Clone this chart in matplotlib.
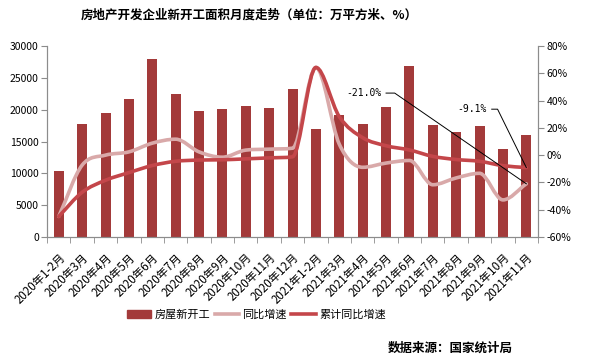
import matplotlib
matplotlib.use('Agg')
import matplotlib.pyplot as plt
from matplotlib.path import Path
from matplotlib.patches import PathPatch, Patch
from matplotlib.lines import Line2D

plt.rcParams['font.family'] = ['Noto Sans CJK SC', 'DejaVu Sans']
plt.rcParams['axes.unicode_minus'] = False

################# DATA ##################
months = ['2020年1-2月', '2020年3月', '2020年4月', '2020年5月', '2020年6月', '2020年7月',
          '2020年8月', '2020年9月', '2020年10月', '2020年11月', '2020年12月',
          '2021年1-2月', '2021年3月', '2021年4月', '2021年5月', '2021年6月', '2021年7月',
          '2021年8月', '2021年9月', '2021年10月', '2021年11月']
new_start = [10370, 17750, 19480, 21680, 27960, 22460, 19790, 20100, 20580, 20260, 23250,
             16960, 19160, 17750, 20420, 26860, 17590, 16490, 17430, 13820, 16020]
yoy = [-44.9, -7.3, 0.0, 2.4, 8.8, 11.7, 2.4, -1.5, 3.7, 4.4, 5.1,
       64.3, 8.0, -8.9, -5.8, -3.9, -21.7, -16.7, -13.3, -32.8, -21.0]
cum_yoy = [-44.9, -27.2, -18.4, -12.8, -7.6, -4.5, -3.6, -3.4, -2.7, -2.0, -1.2,
           64.3, 28.2, 12.8, 6.9, 3.8, -0.9, -3.2, -4.5, -7.7, -9.1]

bar_color = '#A33A3A'
yoy_color = '#D9A9A9'
cum_color = '#C4464A'
spine_color = '#8C8C8C'


def smooth_path(xs, ys):
    # smoothed line, bezier through the points, tangents limited so no overshoot
    n = len(xs)
    d = [ys[i + 1] - ys[i] for i in range(n - 1)]
    m = []
    for i in range(n):
        if i == 0:
            m.append(d[0])
        elif i == n - 1:
            m.append(d[-1])
        elif d[i - 1] * d[i] <= 0:
            m.append(0.0)
        else:
            t = (d[i - 1] + d[i]) / 2
            lim = 3 * min(abs(d[i - 1]), abs(d[i]))
            m.append(max(-lim, min(lim, t)))
    verts = [(xs[0], ys[0])]
    codes = [Path.MOVETO]
    for i in range(n - 1):
        h = (xs[i + 1] - xs[i]) / 3
        verts += [(xs[i] + h, ys[i] + m[i] / 3),
                  (xs[i + 1] - h, ys[i + 1] - m[i + 1] / 3),
                  (xs[i + 1], ys[i + 1])]
        codes += [Path.CURVE4] * 3
    return Path(verts, codes)


fig = plt.figure(figsize=(5.96, 3.61), dpi=100)
ax = fig.add_axes([0.079, 0.3435, 0.8237, 0.529])
ax2 = ax.twinx()

x = list(range(len(months)))
ax.bar(x, new_start, width=0.43, color=bar_color, zorder=2)

ax2.add_patch(PathPatch(smooth_path(x, yoy), fill=False, edgecolor=yoy_color, lw=2.6,
                        capstyle='round', joinstyle='round', zorder=3))
ax2.add_patch(PathPatch(smooth_path(x, cum_yoy), fill=False, edgecolor=cum_color, lw=2.6,
                        capstyle='round', joinstyle='round', zorder=4))

ax.set_xlim(-0.5, len(months) - 0.5)
ax.set_ylim(0, 30000)
ax.set_yticks(range(0, 30001, 5000))
ax2.set_ylim(-60, 80)
ax2.set_yticks(range(-60, 81, 20))
ax2.set_yticklabels([f'{v}%' for v in range(-60, 81, 20)])

ax.set_xticks(x)
ax.set_xticklabels(months, rotation=45, ha='right', rotation_mode='anchor', fontsize=8.3)
ax.set_xticks([i - 0.5 for i in range(len(months) + 1)], minor=True)
ax.tick_params(axis='x', which='major', length=0, pad=10)
ax.tick_params(axis='x', which='minor', length=4, color=spine_color)
ax.tick_params(axis='y', labelsize=7.5, length=4, color=spine_color, pad=2)
ax2.tick_params(axis='y', labelsize=7.5, length=4, color=spine_color, pad=2)

for a in (ax, ax2):
    a.spines['top'].set_visible(False)
    for s in ('left', 'right', 'bottom'):
        a.spines[s].set_color(spine_color)

# labels for last points
mono = 'DejaVu Sans Mono'
ax2.text(13.8, 45.5, '-21.0%', ha='right', va='center', fontsize=7, family=mono)
ax2.plot([14.0, 14.37, x[-1]], [45.5, 45.5, yoy[-1]], color='black', lw=0.7, zorder=5)
ax2.text(18.3, 33.7, '-9.1%', ha='right', va='center', fontsize=7, family=mono)
ax2.plot([18.52, 18.77, x[-1]], [33.7, 33.7, cum_yoy[-1]], color='black', lw=0.7, zorder=5)

fig.text(0.418, 0.958, '房地产开发企业新开工面积月度走势（单位：万平方米、%）',
         ha='center', va='center', fontsize=9, weight='bold')
fig.text(0.86, 0.036, '数据来源：国家统计局', ha='right', va='center',
         fontsize=9, weight='bold')

handles = [Patch(color=bar_color), Line2D([], [], color=yoy_color, lw=2.6),
           Line2D([], [], color=cum_color, lw=2.6)]
fig.legend(handles, ['房屋新开工', '同比增速', '累计同比增速'], loc='center',
           bbox_to_anchor=(0.43, 0.128), ncol=3, frameon=False, fontsize=8,
           handlelength=2.2, handletextpad=0.3, columnspacing=0.4)

fig.savefig('out.png', dpi=100)
